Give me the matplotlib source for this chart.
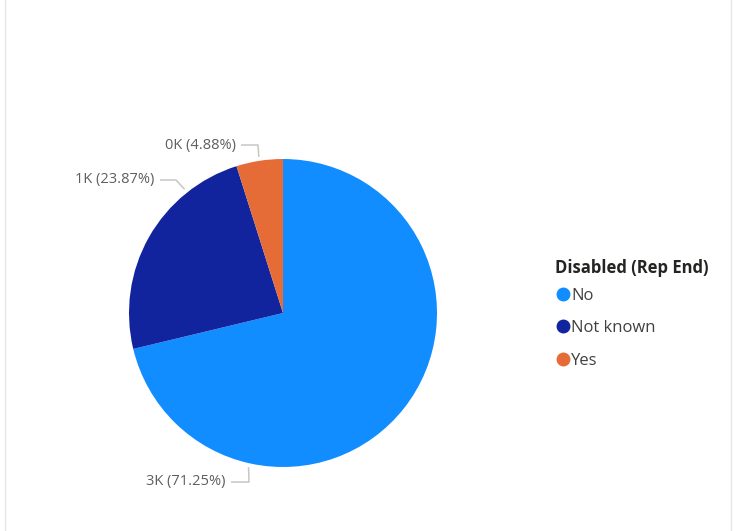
import numpy as np
import matplotlib
matplotlib.use("Agg")
import matplotlib.pyplot as plt
from matplotlib.lines import Line2D

# Data
categories = ["No", "Not known", "Yes"]
percentages = [71.25, 23.87, 4.88]
count_labels = ["3K", "1K", "0K"]
legend_title = "Disabled (Rep End)"

colors = ["#118DFF", "#12239E", "#E66C37"]

W, H = 733, 531
fig = plt.figure(figsize=(W / 100, H / 100), dpi=100)
ax = fig.add_axes([0, 0, 1, 1])

plt.rcParams["font.family"] = ["Open Sans", "DejaVu Sans"]

cx, cy, r = 283, H - 313, 154
wedges, _ = ax.pie(percentages, colors=colors, startangle=90, counterclock=False,
                   center=(cx, cy), radius=r, frame=True,
                   wedgeprops=dict(linewidth=0))
ax.set_xlim(0, W)
ax.set_ylim(0, H)
ax.set_aspect("equal")
ax.axis("off")

# panel edges
ax.plot([4.5, 4.5], [0, H], color="#E6E6E6", lw=1)
ax.plot([730.5, 730.5], [0, H], color="#E6E6E6", lw=1)

# leader lines: anchor angle (deg, ccw from top), elbow point, line end, label right x
label_layout = [
    (167.4, (249, 482), 231, 226),   # No
    (38.5, (176, 180), 160, 154),    # Not known
    (8.8, (258, 145), 241, 236),     # Yes
]
for (ang, (ex, ey), lx, tx), cnt, pct in zip(label_layout, count_labels, percentages):
    a = np.deg2rad(ang)
    sx = cx - (r + 4) * np.sin(a)
    sy = cy + (r + 4) * np.cos(a)
    ax.plot([sx, ex, lx], [sy, H - ey, H - ey], color="#C8C6C4", lw=1.1,
            solid_capstyle="butt")
    ax.text(tx, H - ey, f"{cnt} ({pct:.2f}%)", ha="right", va="center",
            fontsize=10.5, color="#605E5C")

handles = [Line2D([0], [0], marker="o", linestyle="none", markersize=9,
                  markerfacecolor=c, markeredgecolor=c) for c in colors]
leg = ax.legend(handles, categories, title=legend_title, loc="upper left",
                bbox_to_anchor=(548 / W, 1 - 252 / H), frameon=False,
                fontsize=12, title_fontsize=12, handletextpad=0.0,
                handlelength=1.0, labelspacing=0.98, borderaxespad=0,
                alignment="left")
# tighter gap between the title and the first entry
leg._legend_box.sep = 8.1
leg.get_title().set_fontweight("bold")
leg.get_title().set_color("#252423")
for t in leg.get_texts():
    t.set_color("#404040")

fig.savefig("out.png", dpi=100)
